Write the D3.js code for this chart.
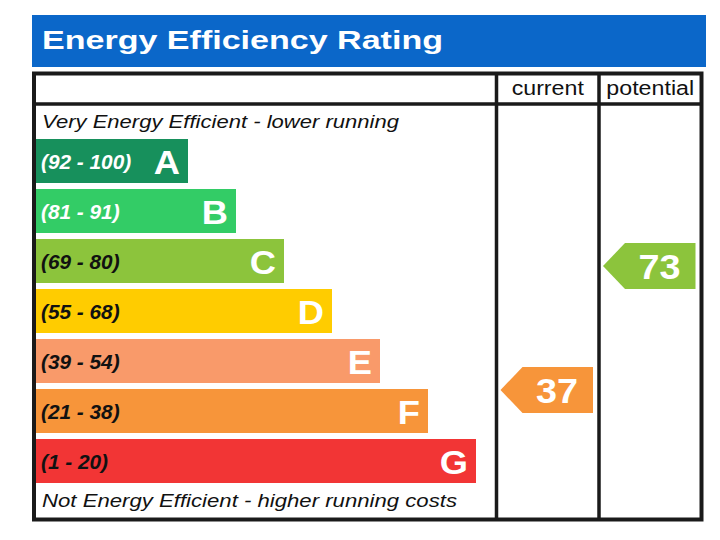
<!DOCTYPE html>
<html>
<head>
<meta charset="utf-8">
<script src="https://cdn.jsdelivr.net/npm/d3@7"></script>
<style>
  body { margin: 0; background: #fff; }
  svg { display: block; font-family: "Liberation Sans", Arial, sans-serif; }
</style>
</head>
<body>
<div id="chart"></div>
<script>
// Bands of the rating, top (best) to bottom (worst)
var bands = ["A", "B", "C", "D", "E", "F", "G"];
var ranges = ["(92 - 100)", "(81 - 91)", "(69 - 80)", "(55 - 68)", "(39 - 54)", "(21 - 38)", "(1 - 20)"];
var bandColors = ["#17905c", "#33cc66", "#8cc43c", "#ffcc00", "#f99a6a", "#f7953a", "#f23535"];
var rangeTextColors = ["#fff", "#fff", "#111", "#111", "#111", "#111", "#111"];
var barLengths = [1, 2, 3, 4, 5, 6, 7];

// The two rating columns
var columns = ["current", "potential"];
var ratings = [37, 73];
var ratingColors = ["#f7953a", "#8cc43c"];

var width = 720, height = 540;

var svg = d3.select("#chart")
  .append("svg")
  .attr("width", width)
  .attr("height", height);

// stretch text horizontally (the picture is a bit wider than the font)
function stretch(sel, k) {
  sel.each(function() {
    var w = this.getComputedTextLength();
    d3.select(this).attr("textLength", w * k).attr("lengthAdjust", "spacingAndGlyphs");
  });
}

// Scales
var y = d3.scaleBand().domain(bands).range([139, 483]).paddingInner(0.12);
var x = d3.scaleLinear().domain([0, 7]).range([140, 476]);
var col = d3.scaleBand().domain(columns).range([496.5, 701.5]);
var ry = d3.scaleLinear().domain([100, 1]).range([173, 514]);

// Blue title bar
svg.append("rect")
  .attr("x", 32).attr("y", 15)
  .attr("width", 674).attr("height", 52)
  .attr("fill", "#0b67c9");

svg.append("text")
  .text("Energy Efficiency Rating")
  .attr("x", 42).attr("y", 49)
  .attr("fill", "#fff")
  .attr("font-size", 26)
  .attr("font-weight", "bold")
  .attr("textLength", 401)
  .attr("lengthAdjust", "spacingAndGlyphs");

// Bars
var rows = svg.selectAll("g.band")
  .data(bands)
  .enter().append("g")
  .attr("class", "band");

rows.append("rect")
  .attr("x", 36)
  .attr("y", function(d) { return y(d); })
  .attr("width", function(d, i) { return x(barLengths[i]) - 36; })
  .attr("height", y.bandwidth())
  .attr("fill", function(d, i) { return bandColors[i]; });

rows.append("text")
  .text(function(d, i) { return ranges[i]; })
  .attr("x", 41)
  .attr("y", function(d) { return y(d) + y.bandwidth() / 2 + 7.5; })
  .attr("font-size", 20)
  .attr("font-weight", "bold")
  .attr("font-style", "italic")
  .attr("fill", function(d, i) { return rangeTextColors[i]; })
  .call(stretch, 1.04);

rows.append("text")
  .text(function(d) { return d; })
  .attr("x", function(d, i) { return x(barLengths[i]) - 8; })
  .attr("y", function(d) { return y(d) + y.bandwidth() / 2 + 12.5; })
  .attr("text-anchor", "end")
  .attr("font-size", 33)
  .attr("font-weight", "bold")
  .attr("fill", "#fff")
  .call(stretch, 1.1);

// Top and bottom captions
svg.append("text")
  .text("Very Energy Efficient - lower running")
  .attr("x", 42).attr("y", 128)
  .attr("font-size", 18)
  .attr("font-style", "italic")
  .attr("fill", "#111")
  .attr("textLength", 357)
  .attr("lengthAdjust", "spacingAndGlyphs");

svg.append("text")
  .text("Not Energy Efficient - higher running costs")
  .attr("x", 42).attr("y", 507)
  .attr("font-size", 18)
  .attr("font-style", "italic")
  .attr("fill", "#111")
  .attr("textLength", 415)
  .attr("lengthAdjust", "spacingAndGlyphs");

// Table frame
var frame = svg.append("g")
  .attr("fill", "none")
  .attr("stroke", "#1a1a1a");

frame.append("rect")
  .attr("x", 34).attr("y", 73.5)
  .attr("width", 667.5).attr("height", 446)
  .attr("stroke-width", 4);

frame.append("line")
  .attr("x1", 34).attr("x2", 701.5)
  .attr("y1", 104).attr("y2", 104)
  .attr("stroke-width", 3.5);

frame.selectAll("line.col")
  .data(columns)
  .enter().append("line")
  .attr("class", "col")
  .attr("x1", function(d) { return col(d); })
  .attr("x2", function(d) { return col(d); })
  .attr("y1", 73.5).attr("y2", 519.5)
  .attr("stroke-width", 3.5);

// Column headings
svg.selectAll("text.colhead")
  .data(columns)
  .enter().append("text")
  .attr("class", "colhead")
  .text(function(d) { return d; })
  .attr("x", function(d) { return col(d) + col.bandwidth() / 2; })
  .attr("y", 95)
  .attr("text-anchor", "middle")
  .attr("font-size", 20)
  .attr("fill", "#111")
  .call(stretch, 1.16);

// Rating arrows
var arrows = svg.selectAll("g.arrow")
  .data(columns)
  .enter().append("g")
  .attr("class", "arrow");

arrows.append("path")
  .attr("d", function(d, i) {
    var x0 = col(d) + 4, x1 = col(d) + col.bandwidth() - 6;
    var yc = ry(ratings[i]), h = 23;
    return "M" + x0 + "," + yc +
      "L" + (x0 + 22) + "," + (yc - h) +
      "L" + x1 + "," + (yc - h) +
      "L" + x1 + "," + (yc + h) +
      "L" + (x0 + 22) + "," + (yc + h) + "Z";
  })
  .attr("fill", function(d, i) { return ratingColors[i]; });

arrows.append("text")
  .text(function(d, i) { return ratings[i]; })
  .attr("x", function(d) { return col(d) + col.bandwidth() - 21; })
  .attr("y", function(d, i) { return ry(ratings[i]) + 12.5; })
  .attr("text-anchor", "end")
  .attr("font-size", 35)
  .attr("font-weight", "bold")
  .attr("fill", "#fff")
  .call(stretch, 1.08);
</script>
</body>
</html>
